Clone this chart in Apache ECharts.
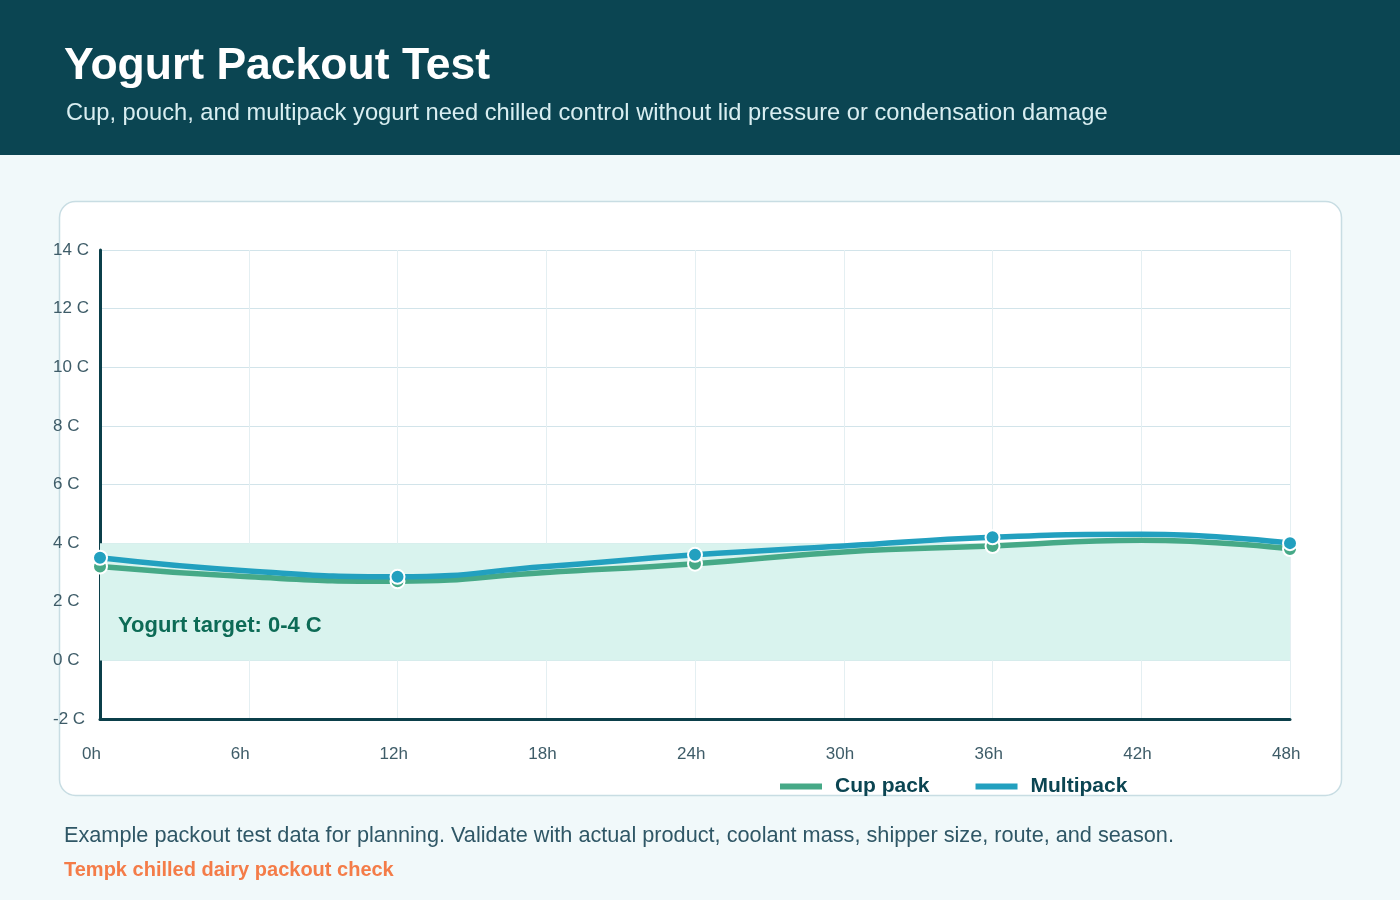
<!DOCTYPE html>
<html>
<head>
<meta charset="utf-8">
<script src="https://cdn.jsdelivr.net/npm/echarts@6/dist/echarts.min.js"></script>
<style>
  html, body { margin: 0; padding: 0; background: #f1f9fa; }
  #main { width: 1400px; height: 900px; }
</style>
</head>
<body>
<div id="main"></div>
<script>
var hours = [0, 6, 12, 18, 24, 30, 36, 42, 48]
var cupPack = [3.2, 2.85, 2.7, 3.0, 3.3, 3.7, 3.9, 4.1, 3.8]
var multipack = [3.5, 3.05, 2.85, 3.2, 3.6, 3.9, 4.2, 4.3, 4.0]
var targetBand = [0, 4]
// markers are only drawn at the 12 h checks
var checkEvery = 12

var font = '"Liberation Sans", Arial, sans-serif'

function pairs(xs, ys) {
  return xs.map(function (x, i) { return [x, ys[i]] })
}

function markerSize(val) {
  return val[0] % checkEvery === 0 ? 14 : 0
}

var chart = echarts.init(document.getElementById('main'))

var option = {
  animation: false,
  backgroundColor: '#f1f9fa',
  textStyle: { fontFamily: font },
  graphic: [
    // header band
    { type: 'rect', z: -10, shape: { x: 0, y: 0, width: 1400, height: 155 }, style: { fill: '#0b4552' } },
    { type: 'text', z: 10, x: 64, y: 67, style: { text: 'Yogurt Packout Test', fill: '#ffffff', font: 'bold 44.5px ' + font, textVerticalAlign: 'middle' } },
    { type: 'text', z: 10, x: 66, y: 113, style: { text: 'Cup, pouch, and multipack yogurt need chilled control without lid pressure or condensation damage', fill: '#d9eef1', font: '23.7px ' + font, textVerticalAlign: 'middle' } },
    // card
    { type: 'rect', z: -10, shape: { x: 59.5, y: 201.5, width: 1282, height: 594, r: 16 }, style: { fill: '#ffffff', stroke: '#c8dde3', lineWidth: 1.5 } },
    // footer
    { type: 'text', z: 10, x: 64, y: 836, style: { text: 'Example packout test data for planning. Validate with actual product, coolant mass, shipper size, route, and season.', fill: '#2f5766', font: '21.7px ' + font, textVerticalAlign: 'middle' } },
    { type: 'text', z: 10, x: 64, y: 870, style: { text: 'Tempk chilled dairy packout check', fill: '#f47c48', font: 'bold 20px ' + font, textVerticalAlign: 'middle' } }
  ],
  legend: {
    left: 780,
    top: 776,
    padding: 0,
    icon: 'rect',
    itemWidth: 42,
    itemHeight: 6,
    itemGap: 46,
    itemStyle: { borderWidth: 0 },
    textStyle: { color: '#0b4552', fontSize: 21, fontWeight: 'bold', fontFamily: font, padding: [0, 0, 0, 8] },
    data: ['Cup pack', 'Multipack']
  },
  grid: { left: 100, right: 110, top: 250, bottom: 181, containLabel: false },
  xAxis: {
    type: 'value',
    min: 0,
    max: 48,
    interval: 6,
    axisLine: { show: true, onZero: false, lineStyle: { color: '#0b3f4a', width: 3 } },
    axisTick: { show: false },
    axisLabel: { formatter: '{value}h', color: '#3e5c68', fontSize: 17, margin: 27, align: 'left', padding: [0, 0, 0, -18], fontFamily: font },
    splitLine: { show: true, lineStyle: { color: '#e4eff2', width: 1 } }
  },
  yAxis: {
    type: 'value',
    min: -2,
    max: 14,
    interval: 2,
    axisLine: { show: true, onZero: false, lineStyle: { color: '#0b3f4a', width: 3 } },
    axisTick: { show: false },
    axisLabel: { formatter: '{value} C', color: '#3e5c68', fontSize: 17, margin: 47, align: 'left', fontFamily: font },
    splitLine: { show: true, lineStyle: { color: '#d2e4ea', width: 1 } }
  },
  series: [
    {
      name: 'Cup pack',
      type: 'line',
      smooth: true,
      data: pairs(hours, cupPack),
      symbol: 'circle',
      symbolSize: markerSize,
      showAllSymbol: true,
      lineStyle: { color: '#46a987', width: 5.5 },
      itemStyle: { color: '#46a987', borderColor: '#ffffff', borderWidth: 2 },
      markArea: {
        silent: true,
        itemStyle: { color: '#d9f3ee' },
        label: {
          show: true,
          position: [18, 83],
          verticalAlign: 'middle',
          color: '#0d6b56',
          fontSize: 22,
          fontWeight: 'bold',
          fontFamily: font,
          formatter: 'Yogurt target: 0-4 C'
        },
        data: [[{ yAxis: targetBand[0] }, { yAxis: targetBand[1] }]]
      },
      z: 3
    },
    {
      name: 'Multipack',
      type: 'line',
      smooth: true,
      data: pairs(hours, multipack),
      symbol: 'circle',
      symbolSize: markerSize,
      showAllSymbol: true,
      lineStyle: { color: '#22a0bf', width: 5.5 },
      itemStyle: { color: '#22a0bf', borderColor: '#ffffff', borderWidth: 2 },
      z: 4
    }
  ]
}

chart.setOption(option)
</script>
</body>
</html>
